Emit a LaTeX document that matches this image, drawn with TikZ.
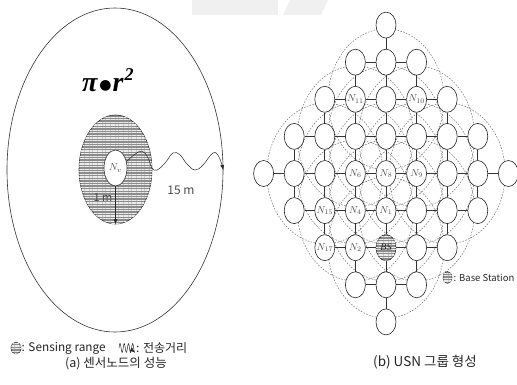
\documentclass[tikz,border=0pt]{standalone}
\usepackage{fontspec}
\setmainfont{Liberation Serif}
\newfontfamily\kr{Noto Sans CJK KR}
\newfontfamily\dv{DejaVu Sans}
\usetikzlibrary{shapes.geometric,patterns.meta,arrows.meta}
\begin{document}
\begin{tikzpicture}[x=1pt,y=-1pt,
  gnode/.style={ellipse, draw=black!85, line width=0.6pt, fill=white, minimum width=20pt, minimum height=26pt, inner sep=0pt},
  link/.style={draw=black!80, line width=0.8pt},
  rangeline/.style={draw=black!55, line width=0.5pt, dash pattern=on 1.6pt off 1.4pt},
  hatch/.style={fill=black!45, postaction={pattern={Lines[angle=0,distance=2.6pt,line width=1.1pt]}, pattern color=black!8}},
  lbl/.style={font=\fontsize{10}{10}\selectfont, text=black!70, inner sep=0pt},
  krtext/.style={font=\kr\fontsize{12}{14}\selectfont, text=black!85, inner sep=0pt},
  tip/.style={-{Latex[length=5pt,width=4pt]}}
]
\useasboundingbox (0,0) rectangle (517,385);
% faint watermark at the top
\fill[black!6] (192,0) rectangle (278,15);
\fill[black!6] (290,0) -- (328,0) -- (321,15) -- (283,15) -- cycle;

% ---------------- (a) ----------------
\node[ellipse, draw=black!80, line width=0.6pt, minimum width=216pt, minimum height=324pt, inner sep=0pt] (outer) at (115,170) {};
\node[anchor=base west, inner sep=0pt] (formula) at (82,92) {\fontsize{28}{28}\selectfont\bfseries\itshape π\hspace{2pt}{\dv\fontsize{14}{14}\selectfont\raisebox{2.5pt}{●}}\hspace{1pt}r\hspace{1pt}\raisebox{0.42em}{\fontsize{18}{18}\selectfont 2}};
\node[ellipse, hatch, draw=black!80, line width=0.6pt, minimum width=73pt, minimum height=109pt, inner sep=0pt] (sr) at (115.5,169.5) {};
\node[ellipse, draw=black!80, line width=0.6pt, fill=white, minimum width=23pt, minimum height=36pt, inner sep=0pt] (nv) at (115.5,168) {};
\node[lbl] at (nv) {$N_v$};
\draw[black!85, line width=0.6pt, tip] (nv.south) -- (sr.south);
\node[krtext, font=\kr\fontsize{11}{12}\selectfont, text=black!70] (onem) at (103,198) {1 m};
\draw[black!85, line width=0.5pt, tip] plot[smooth, tension=0.7] coordinates {(nv.30) (134,155) (142,151) (148,158) (152,168) (157,170) (165,163) (173,153) (180,155) (187,164) (195,170) (203,165) (213,153) (219,157) (outer.east)};
\node[krtext, text=black!70] (fifteen) at (181,190) {15 m};

% legend (a)
\node[ellipse, hatch, draw=black!80, line width=0.5pt, minimum width=10pt, minimum height=12pt, inner sep=0pt] (lega) at (16,348) {};
\node[krtext, anchor=west, font=\kr\fontsize{11.8}{14}\selectfont] (legatext) at (21.5,348) {: Sensing range};
\draw[black!85, line width=0.5pt, tip] plot[domain=0:3.75, samples=60, smooth] ({119+\x*4.2}, {348-4.5*sin(\x*360)});
\node[krtext, anchor=west] (legbtext) at (136,348) {: 전송거리};
\node[krtext, font=\kr\fontsize{12.5}{14}\selectfont] (capa) at (116,364) {(a) 센서노드의 성능};

% ---------------- (b) ----------------
% range circles
\foreach \a in {2,...,6}{
  \foreach \b in {2,...,6}{
    \pgfmathtruncatemacro{\d}{abs(\a-4)+abs(\b-4)}
    \ifnum\d<3
      \draw[rangeline] ({386+30.6*(\a-4)}, {173.5-37.1*(\b-4)}) ellipse [x radius=58, y radius=70.5];
    \fi
  }
}
% nodes
\foreach \a in {0,...,8}{
  \foreach \b in {0,...,8}{
    \pgfmathtruncatemacro{\d}{abs(\a-4)+abs(\b-4)}
    \ifnum\d<5
      \ifnum\a\b=42
        \node[gnode, hatch] (g-\a-\b) at ({386+30.6*(\a-4)}, {173.5-37.1*(\b-4)}) {};
      \else
        \node[gnode] (g-\a-\b) at ({386+30.6*(\a-4)}, {173.5-37.1*(\b-4)}) {};
      \fi
    \fi
  }
}
% links
\foreach \a in {0,...,7}{
  \foreach \b in {0,...,8}{
    \pgfmathtruncatemacro{\an}{\a+1}
    \pgfmathtruncatemacro{\d}{max(abs(\a-4)+abs(\b-4), abs(\an-4)+abs(\b-4))}
    \ifnum\d<5 \draw[link] (g-\a-\b) -- (g-\an-\b); \fi
  }
}
\foreach \a in {0,...,8}{
  \foreach \b in {0,...,7}{
    \pgfmathtruncatemacro{\bn}{\b+1}
    \pgfmathtruncatemacro{\d}{max(abs(\a-4)+abs(\b-4), abs(\a-4)+abs(\bn-4))}
    \ifnum\d<5 \draw[link] (g-\a-\b) -- (g-\a-\bn); \fi
  }
}
% labels
\node[lbl] at (g-3-6) {$N_{11}$};
\node[lbl] at (g-5-6) {$N_{10}$};
\node[lbl] at (g-3-4) {$N_{6}$};
\node[lbl] at (g-4-4) {$N_{8}$};
\node[lbl] at (g-5-4) {$N_{9}$};
\node[lbl] at (g-2-3) {$N_{15}$};
\node[lbl] at (g-3-3) {$N_{4}$};
\node[lbl] at (g-4-3) {$N_{1}$};
\node[lbl] at (g-2-2) {$N_{17}$};
\node[lbl] at (g-3-2) {$N_{2}$};
\node[lbl, text=black!85] at (g-4-2) {\itshape BS};

% legend (b)
\node[ellipse, hatch, draw=black!80, line width=0.5pt, minimum width=9pt, minimum height=12pt, inner sep=0pt] (legbs) at (447.5,277.5) {};
\node[krtext, anchor=west, font=\kr\fontsize{9.5}{11}\selectfont] (legbstext) at (453.5,277.5) {: Base Station};
\node[krtext, font=\kr\fontsize{13.5}{15}\selectfont] (capb) at (425,362) {(b) USN 그룹 형성};
\end{tikzpicture}
\end{document}
